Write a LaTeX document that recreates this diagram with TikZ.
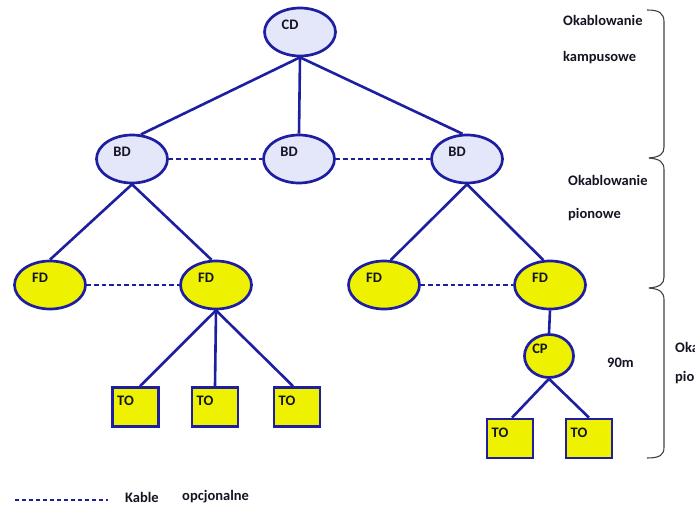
\documentclass[tikz,border=0pt]{standalone}
\usepackage{fontspec}
\setmainfont{Carlito}
\usetikzlibrary{shapes.geometric}
\definecolor{lineblue}{RGB}{30,30,160}
\definecolor{lav}{RGB}{228,230,250}
\definecolor{yel}{RGB}{238,242,0}
\definecolor{txt}{RGB}{20,20,35}
\begin{document}
\begin{tikzpicture}[x=1pt,y=-1pt,
  font=\fontsize{14.5}{16}\selectfont\bfseries, text=txt,
  base/.style={draw=lineblue, line width=2.7pt, inner sep=0pt},
  ell/.style={base, ellipse, minimum width=71pt, minimum height=48pt},
  lavell/.style={ell, fill=lav},
  yelell/.style={ell, fill=yel},
  cpell/.style={base, ellipse, fill=yel, minimum width=49pt, minimum height=43pt},
  tobox/.style={base, rectangle, fill=yel, minimum width=46pt, minimum height=39pt},
  lbl/.style={xshift=-10pt, yshift=7pt, inner sep=0pt},
  link/.style={draw=lineblue, line width=2.6pt},
  opt/.style={draw=lineblue, line width=2.8pt, dash pattern=on 4.5pt off 3pt},
  brace/.style={draw=black!75, line width=1.1pt},
  note/.style={anchor=west, inner sep=0pt}]
\useasboundingbox (0,0) rectangle (695,505);
\clip (0,0) rectangle (695,505);

% nodes
\node[lavell, label={[lbl]center:CD}] (CD) at (300,32) {};
\node[lavell, label={[lbl]center:BD}] (BDl) at (132,159) {};
\node[lavell, label={[lbl]center:BD}] (BDm) at (299,159) {};
\node[lavell, label={[lbl]center:BD}] (BDr) at (467,159) {};
\node[yelell, label={[lbl]center:FD}] (FD1) at (50,285) {};
\node[yelell, label={[lbl]center:FD}] (FD2) at (216,285) {};
\node[yelell, label={[lbl]center:FD}] (FD3) at (384,285) {};
\node[yelell, label={[lbl]center:FD}] (FD4) at (550,285) {};
\node[cpell, label={[lbl,xshift=1pt]center:CP}] (CP) at (549,356) {};
\node[tobox, label={[lbl,yshift=-1pt]center:TO}] (TO1) at (135.5,407) {};
\node[tobox, label={[lbl,yshift=-1pt]center:TO}] (TO2) at (215,407) {};
\node[tobox, label={[lbl,yshift=-1pt]center:TO}] (TO3) at (297,407) {};
\node[tobox, label={[lbl,yshift=-1pt]center:TO}] (TO4) at (510,438.5) {};
\node[tobox, label={[lbl,yshift=-1pt]center:TO}] (TO5) at (589,438.5) {};

% connectors
\draw[link] (CD.south) -- (BDl.70);
\draw[link] (CD.south) -- (BDm.north);
\draw[link] (CD.south) -- (BDr.100);
\draw[link] (BDl.south) -- (FD1.north);
\draw[link] (BDl.south) -- (FD2.100);
\draw[link] (BDr.south) -- (FD3.75);
\draw[link] (BDr.south) -- (FD4.105);
\draw[link] (FD4.south) -- (CP.north);
\draw[link] (FD2.south) -- ([xshift=4.5pt]TO1.north);
\draw[link] (FD2.south) -- (TO2.north);
\draw[link] (FD2.south) -- ([xshift=-4pt]TO3.north);
\draw[link] (CP.south) -- ([xshift=2pt]TO4.north);
\draw[link] (CP.south) -- (TO5.north);

% optional cables
\draw[opt] (BDl.east) -- (BDm.west);
\draw[opt] (BDm.east) -- (BDr.west);
\draw[opt] (FD1.east) -- (FD2.west);
\draw[opt] (FD3.east) -- (FD4.west);

% braces
\draw[brace] (647,10) .. controls (659,10) and (664,13) .. (664,22) -- (664,147) .. controls (664,154) and (660,157) .. (649,158);
\draw[brace] (649,158) .. controls (660,159) and (664,162) .. (664,170) -- (664,277) .. controls (664,284) and (660,287) .. (649,288);
\draw[brace] (649,288) .. controls (660,289) and (664,292) .. (664,300) -- (664,447) .. controls (664,455) and (660,458) .. (647,458);

% annotations
\node[note] (t1) at (563,20) {Okablowanie};
\node[note] (t2) at (563,58) {kampusowe};
\node[note] (t3) at (568,180) {Okablowanie};
\node[note] (t4) at (568,215) {pionowe};
\node[note] (t5) at (675,347) {Okablowanie};
\node[note] (t6) at (675,378) {pionowe};
\node[note] (t7) at (607,363) {90m};

% legend
\coordinate (lg1) at (15,500);
\coordinate (lg2) at (108,500);
\draw[opt, dash pattern=on 4pt off 3pt] (lg1) -- (lg2);
\node[note] (k1) at (125,497) {Kable};
\node[note] (k2) at (182,497) {opcjonalne};
\end{tikzpicture}
\end{document}
